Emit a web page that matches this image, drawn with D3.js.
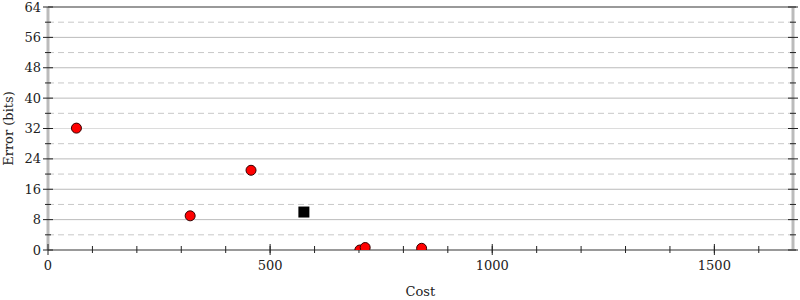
<!DOCTYPE html>
<html>
<head>
<meta charset="utf-8">
<script src="https://cdn.jsdelivr.net/npm/d3@7"></script>
<style>
  body { margin: 0; background: #fff; }
  svg { font-family: "DejaVu Serif", serif; }
</style>
</head>
<body>
<svg id="chart" width="800" height="300"></svg>
<script>
// measured points (cost vs error)
var costs = [64, 320, 457, 702, 714, 841];
var errors = [32.1, 9.0, 21.0, 0, 0.65, 0.45];
// the initial program
var startCost = [576];
var startError = [10];

var xTicks = [0, 500, 1000, 1500];
var yTicks = [0, 8, 16, 24, 32, 40, 48, 56, 64];

var svg = d3.select('#chart'),
    pLeft = 48, pRight = 793, pTop = 7, pBottom = 250;

var x = d3.scaleLinear().domain([0, 1677]).range([pLeft, pRight]),
    y = d3.scaleLinear().domain([0, 64]).range([pBottom, pTop]);

// grid
var grid = svg.append('g');
grid.selectAll('line.minor')
    .data(d3.range(4, 64, 8))
    .enter().append('line')
    .attr('x1', pLeft).attr('x2', pRight)
    .attr('y1', function (d) {return y(d)})
    .attr('y2', function (d) {return y(d)})
    .attr('stroke', '#c8c8c8')
    .attr('stroke-dasharray', '6,4');
grid.selectAll('line.major')
    .data(yTicks.filter(function (d) {return d > 0 && d < 64}))
    .enter().append('line')
    .attr('x1', pLeft).attr('x2', pRight)
    .attr('y1', function (d) {return y(d)})
    .attr('y2', function (d) {return y(d)})
    .attr('stroke', function (d) {return d === 32 ? '#dcdcdc' : '#bbb'});

// frame
svg.append('line').attr('x1', pLeft).attr('x2', pLeft).attr('y1', pTop).attr('y2', pBottom)
    .attr('stroke', '#bbb').attr('stroke-width', 3);
svg.append('line').attr('x1', pRight).attr('x2', pRight).attr('y1', pTop).attr('y2', pBottom)
    .attr('stroke', '#bbb').attr('stroke-width', 3);
svg.append('line').attr('x1', pLeft).attr('x2', pRight + 3).attr('y1', y(64)).attr('y2', y(64))
    .attr('stroke', '#999').attr('stroke-width', 2);
svg.append('line').attr('x1', pLeft).attr('x2', pRight + 3).attr('y1', y(0)).attr('y2', y(0))
    .attr('stroke', '#999').attr('stroke-width', 2);

// y axis ticks
var yAxis = svg.append('g').attr('fill', '#222');
yAxis.selectAll('line.ymaj')
    .data(yTicks)
    .enter().append('line')
    .attr('x1', pLeft - 5).attr('x2', pLeft + 5)
    .attr('y1', function (d) {return y(d)})
    .attr('y2', function (d) {return y(d)})
    .attr('stroke', '#222');
yAxis.selectAll('line.ymin')
    .data(d3.range(4, 64, 8))
    .enter().append('line')
    .attr('x1', pLeft - 3).attr('x2', pLeft + 3)
    .attr('y1', function (d) {return y(d)})
    .attr('y2', function (d) {return y(d)})
    .attr('stroke', '#222');
yAxis.selectAll('line.yrmaj')
    .data(yTicks)
    .enter().append('line')
    .attr('x1', pRight - 5).attr('x2', pRight + 5)
    .attr('y1', function (d) {return y(d)})
    .attr('y2', function (d) {return y(d)})
    .attr('stroke', '#222');
yAxis.selectAll('line.yrmin')
    .data(d3.range(4, 64, 8))
    .enter().append('line')
    .attr('x1', pRight - 3).attr('x2', pRight + 3)
    .attr('y1', function (d) {return y(d)})
    .attr('y2', function (d) {return y(d)})
    .attr('stroke', '#222');
yAxis.selectAll('text')
    .data(yTicks)
    .enter().append('text')
    .attr('x', pLeft - 7)
    .attr('y', function (d) {return y(d)})
    .attr('dy', '0.35em')
    .attr('text-anchor', 'end')
    .attr('font-size', 13)
    .text(function (d) {return d});

// x axis ticks
var xAxis = svg.append('g').attr('fill', '#222');
xAxis.selectAll('line.xmin')
    .data(d3.range(100, 1677, 100))
    .enter().append('line')
    .attr('x1', function (d) {return x(d)})
    .attr('x2', function (d) {return x(d)})
    .attr('y1', pBottom - 4).attr('y2', pBottom + 3)
    .attr('stroke', '#222');
xAxis.selectAll('line.xmaj')
    .data(xTicks)
    .enter().append('line')
    .attr('x1', function (d) {return x(d)})
    .attr('x2', function (d) {return x(d)})
    .attr('y1', pBottom - 6).attr('y2', pBottom + 5)
    .attr('stroke', '#222');
xAxis.selectAll('text')
    .data(xTicks)
    .enter().append('text')
    .attr('x', function (d) {return x(d)})
    .attr('y', 270)
    .attr('text-anchor', 'middle')
    .attr('font-size', 13)
    .text(function (d) {return d});

// labels
svg.append('text')
    .attr('x', x(838)).attr('y', 296)
    .attr('text-anchor', 'middle')
    .attr('font-size', 13)
    .attr('fill', '#222')
    .text('Cost');
svg.append('text')
    .attr('transform', 'translate(13,' + ((pTop + pBottom) / 2) + ') rotate(-90)')
    .attr('text-anchor', 'middle')
    .attr('font-size', 13)
    .attr('fill', '#222')
    .text('Error (bits)');

// points, clipped to plot area
svg.append('clipPath').attr('id', 'plot')
    .append('rect').attr('x', pLeft).attr('y', pTop)
    .attr('width', pRight - pLeft).attr('height', pBottom - pTop);

var pts = svg.append('g').attr('clip-path', 'url(#plot)');
pts.selectAll('circle')
    .data(d3.zip(costs, errors))
    .enter().append('circle')
    .attr('cx', function (d) {return x(d[0])})
    .attr('cy', function (d) {return y(d[1])})
    .attr('r', 5)
    .attr('fill', 'red')
    .attr('stroke', '#300')
    .attr('stroke-width', 1);
pts.selectAll('rect')
    .data(d3.zip(startCost, startError))
    .enter().append('rect')
    .attr('x', function (d) {return x(d[0]) - 5.5})
    .attr('y', function (d) {return y(d[1]) - 5.5})
    .attr('width', 11).attr('height', 11)
    .attr('fill', '#000');
</script>
</body>
</html>
